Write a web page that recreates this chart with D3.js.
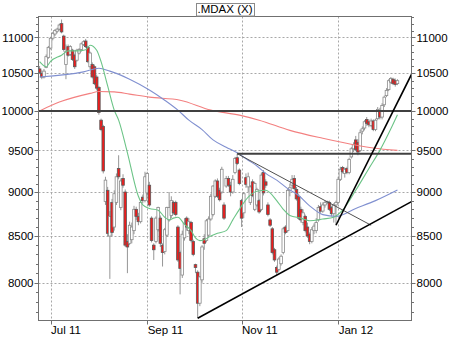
<!DOCTYPE html>
<html>
<head>
<meta charset="utf-8">
<script src="https://cdn.jsdelivr.net/npm/d3@7"></script>
<style>
  body { margin: 0; background: #fff; }
  svg { display: block; font-family: "Liberation Sans", Arial, sans-serif; }
</style>
</head>
<body>
<script>
// Daily candles, one per trading day, from 24 Jun 2011 to 8 Feb 2012
var opens = [10560,10500,10450,10580,10720,10850,10990,11050,11090,11120,11200,11020,10620,10870,10760,10820,10750,10680,10780,10830,
  10900,10950,10860,10590,10620,10590,10450,10310,9880,9800,8890,9020,8500,8880,8600,8880,9280,8820,9160,9000,
  8440,8420,8460,8560,8800,8720,8660,8940,8900,8990,9080,8700,8400,8440,8570,8700,8400,8330,8510,8680,
  8730,8880,8880,8600,8320,8080,8480,8700,8560,8650,8440,8190,8110,7790,8030,8470,8450,8510,8690,8740,
  8950,9130,9020,9000,8850,9070,9160,9080,9000,9230,9410,9260,8900,8760,9170,9060,8880,9120,8800,8850,
  8900,8800,9230,9120,8850,8680,8580,8350,8160,8140,8200,8320,8600,8560,9020,9080,9160,9030,8950,8800,
  8650,8720,8600,8520,8440,8560,8560,8680,8830,8780,8850,8880,8880,8820,8750,8850,8880,9150,9290,9220,
  9280,9230,9420,9520,9630,9600,9500,9740,9780,9890,9860,9810,9870,9760,9900,10000,9920,10080,10200,10280,
  10380,10420,10400,10360];
var highs = [10600,10540,10560,10760,10880,11010,11080,11120,11140,11200,11260,11040,10900,10900,10890,10840,10770,10840,10850,10930,
  10960,10980,10880,10800,10650,10620,10480,10330,9900,9820,9180,9060,8780,8920,9020,9220,9440,9160,9210,9030,
  8520,8660,8650,8840,8830,8760,8910,8970,9240,9240,9120,8720,8420,8720,8830,8730,8420,8590,8830,9000,
  8950,8900,8900,8620,8340,8560,8700,8720,8700,8670,8460,8200,8130,8070,8400,8520,8690,8720,8980,9080,
  9150,9160,9050,9300,8880,9190,9190,9120,9200,9420,9460,9280,8920,9000,9220,9230,9080,9150,9120,9050,
  8920,9230,9260,9150,8880,8700,8600,8370,8180,8270,8300,8600,8620,9040,9100,9200,9200,9060,8980,8830,
  8800,8740,8650,8540,8600,8640,8700,8850,8880,8880,8900,8900,8900,8840,8870,8900,9180,9300,9310,9290,
  9300,9410,9540,9600,9680,9640,9760,9800,9880,9920,9890,9900,9890,9900,10050,10040,10100,10200,10300,10420,
  10450,10440,10430,10420];
var lows = [10490,10420,10430,10570,10700,10830,10960,11020,11060,11100,11060,10800,10420,10730,10740,10670,10560,10660,10760,10800,
  10880,10850,10640,10560,10430,10340,10270,9950,9740,9220,8850,8500,8040,8500,8560,8850,9150,8790,9050,8380,
  8100,8400,8420,8520,8680,8620,8640,8870,8880,8960,8830,8430,8240,8420,8550,8380,8170,8300,8490,8660,
  8700,8740,8720,8220,7880,8050,8450,8560,8520,8430,8280,8100,7640,7760,8000,8350,8430,8490,8670,8720,
  8930,8930,8890,8980,8680,9050,9060,8950,8980,9210,9320,9080,8600,8700,9050,9000,8850,8940,8780,8830,
  8750,8780,8960,9050,8720,8600,8300,8220,8080,8120,8180,8300,8520,8540,8950,9040,9020,8900,8680,8650,
  8620,8540,8480,8410,8420,8520,8530,8660,8760,8760,8820,8860,8780,8720,8650,8630,8860,9130,9220,9170,
  9210,9210,9400,9480,9490,9440,9480,9700,9750,9810,9790,9790,9740,9740,9880,9890,9890,10050,10180,10260,
  10360,10340,10320,10340];
var closes = [10510,10450,10530,10730,10860,10990,11060,11100,11120,11180,11080,10830,10800,10750,10870,10690,10590,10820,10830,10910,
  10940,10870,10660,10780,10450,10360,10300,9980,9760,9250,9140,8530,8720,8540,8980,9180,9180,9130,9080,8400,
  8380,8620,8600,8800,8720,8660,8880,8900,9180,9220,8850,8450,8350,8700,8820,8420,8320,8570,8820,8820,
  8900,8760,8740,8240,8150,8520,8640,8600,8660,8450,8300,8160,7790,8060,8380,8420,8670,8690,8950,9070,
  9130,8950,8910,9270,8700,9160,9080,9000,9150,9400,9340,9100,8700,8980,9090,9180,9060,8960,9100,9030,
  8770,9200,8990,9080,8740,8620,8320,8240,8110,8250,8280,8580,8540,9020,9050,9150,9040,8920,8700,8680,
  8760,8560,8500,8440,8570,8610,8650,8820,8780,8850,8880,8890,8800,8750,8850,8880,9150,9270,9240,9270,
  9230,9390,9520,9570,9510,9480,9720,9770,9860,9840,9820,9870,9760,9880,10020,9920,10070,10180,10270,10400,
  10430,10360,10350,10400];

// Moving averages: [trading day, value]
var maFast = [[0,10660],[3,10590],[5,10665],[10,10750],[13,10810],[18,10810],[21,10825],[23,10890],[26,10820],[28,10660],
  [31,10330],[34,10010],[36,9880],[40,9470],[45,8950],[47,8850],[50,8810],[54,8790],[57,8710],[59,8680],[61,8700],[63,8710],
  [66,8630],[69,8560],[71,8480],[73,8450],[75,8460],[78,8500],[81,8530],[85,8560],[88,8680],[91,8800],[95,8940],[99,9010],
  [103,9020],[108,8900],[111,8800],[114,8730],[119,8700],[123,8670],[129,8690],[134,8710],[138,8790],[144,9020],[150,9280],
  [155,9500],[160,9770],[163,9950]];
var maMid = [[0,10450],[20,10520],[27,10570],[32,10530],[41,10420],[50,10275],[57,10140],[63,10010],[68,9880],[74,9760],
  [79,9630],[85,9540],[90,9470],[95,9380],[99,9310],[103,9220],[108,9140],[113,9040],[118,8960],[123,8840],[129,8740],
  [135,8720],[144,8810],[153,8900],[163,9024]];
var maSlow = [[0,10000],[9,10115],[23,10230],[27,10255],[34,10250],[41,10220],[50,10180],[64,10140],[78,10010],[91,9945],
  [100,9880],[114,9750],[129,9650],[145,9560],[152,9530],[163,9500]];

// Trend lines: [trading day, value] anchors
var supportLine = [[72,7640],[163,8800]];
var steepLine = [[135,8620],[163,10110]];
var fallingLine = [[90,9460],[151,8620]];
var levels = [{ value: 10000, from: null }, { value: 9460, from: 90 }];

var tickMonths = ["2011-07","2011-09","2011-11","2012-01"];
var yTicks = [8000,8500,9000,9500,10000,10500,11000];
var title = ".MDAX (X)";

// trading days (weekdays)
var days = d3.timeDay.range(new Date(2011,5,24), new Date(2012,1,9))
  .filter(function(d){ return d.getDay() % 6 !== 0; });

var W = 450, H = 338;
var pL = 38.5, pR = 411.5, pT = 16.5, pB = 320.5;

var svg = d3.select("body").append("svg")
  .attr("width", W).attr("height", H);

var x = d3.scaleLinear().domain([-0.5, 169.4]).range([pL, pR]);
var y = d3.scaleLog().domain([7617, 11304]).range([pB, pT]);
var lastDay = x.domain()[1];

svg.append("clipPath").attr("id","plot")
  .append("rect").attr("x",pL).attr("y",pT).attr("width",pR-pL).attr("height",pB-pT);

// grid
var tickIdx = tickMonths.map(function(m){
  return days.findIndex(function(d){ return d3.timeFormat("%Y-%m")(d) === m; });
});
var grid = svg.append("g").attr("stroke","#a8a8a8").attr("stroke-dasharray","2,2");
grid.selectAll(".gy").data(yTicks).enter().append("line")
  .attr("x1",pL).attr("x2",pR)
  .attr("y1",function(d){ return Math.round(y(d))+0.5; })
  .attr("y2",function(d){ return Math.round(y(d))+0.5; });
grid.selectAll(".gx").data(tickIdx).enter().append("line")
  .attr("y1",pT).attr("y2",pB)
  .attr("x1",function(d){ return Math.round(x(d))+0.5; })
  .attr("x2",function(d){ return Math.round(x(d))+0.5; });

var plot = svg.append("g").attr("clip-path","url(#plot)");

// candles
var candles = plot.append("g");
opens.forEach(function(o, i){
  var c = closes[i], up = c >= o, cx = x(i);
  candles.append("line")
    .attr("x1",cx).attr("x2",cx)
    .attr("y1",y(highs[i])).attr("y2",y(lows[i]))
    .attr("stroke","#8a8a8a").attr("stroke-width",0.9);
  candles.append("rect")
    .attr("x",cx-1.3).attr("width",2.6)
    .attr("y",y(Math.max(o,c)))
    .attr("height",Math.max(1, Math.abs(y(o)-y(c))))
    .attr("fill", up ? "#ffffff" : "#ee1c1c")
    .attr("stroke", up ? "#8a8a8a" : "#5a5a5a")
    .attr("stroke-width",0.8);
});

// moving averages
var ma = d3.line()
  .x(function(d){ return x(d[0]); })
  .y(function(d){ return y(d[1]); })
  .curve(d3.curveMonotoneX);
plot.append("path").attr("d",ma(maSlow)).attr("fill","none").attr("stroke","#f38080").attr("stroke-width",1.1);
plot.append("path").attr("d",ma(maMid)).attr("fill","none").attr("stroke","#8090d0").attr("stroke-width",1.1);
plot.append("path").attr("d",ma(maFast)).attr("fill","none").attr("stroke","#6cc487").attr("stroke-width",1.1);

// extend a line (straight on the log axis) to the right edge
function extend(p){
  var a = p[0], b = p[1];
  var k = (Math.log(b[1]) - Math.log(a[1])) / (b[0] - a[0]);
  return [a, [lastDay, Math.exp(Math.log(a[1]) + k * (lastDay - a[0]))]];
}
var straight = d3.line()
  .x(function(d){ return x(d[0]); })
  .y(function(d){ return y(d[1]); });

levels.forEach(function(l){
  var x0 = l.from === null ? x.domain()[0] : l.from;
  plot.append("line")
    .attr("x1",x(x0)).attr("x2",pR)
    .attr("y1",y(l.value)).attr("y2",y(l.value))
    .attr("stroke","#404040").attr("stroke-width",2);
});
plot.append("path").attr("d",straight(fallingLine)).attr("fill","none").attr("stroke","#505050").attr("stroke-width",1);
plot.append("path").attr("d",straight(extend(supportLine))).attr("fill","none").attr("stroke","#000").attr("stroke-width",1.6);
plot.append("path").attr("d",straight(extend(steepLine))).attr("fill","none").attr("stroke","#000").attr("stroke-width",1.6);

// frame
svg.append("rect").attr("x",pL).attr("y",pT).attr("width",pR-pL).attr("height",pB-pT)
  .attr("fill","none").attr("stroke","#707070").attr("stroke-width",1);

// y axes with minor ticks
var minor = d3.range(7700, 11400, 100);
[pL, pR].forEach(function(ax){
  var dir = ax === pL ? -1 : 1;
  svg.append("g").selectAll("line").data(minor).enter().append("line")
    .attr("x1",ax).attr("x2",function(d){ return ax + dir * (d % 500 === 0 ? 4 : 2.5); })
    .attr("y1",function(d){ return Math.round(y(d))+0.5; })
    .attr("y2",function(d){ return Math.round(y(d))+0.5; })
    .attr("stroke","#707070");
  svg.append("g").selectAll("text").data(yTicks).enter().append("text")
    .attr("x", ax + dir * 5)
    .attr("y",function(d){ return y(d); })
    .attr("dy","0.36em")
    .attr("text-anchor", dir < 0 ? "end" : "start")
    .attr("font-size","11.5px")
    .attr("fill","#000")
    .text(function(d){ return d; });
});

// x axis
svg.append("g").selectAll("line").data(tickIdx).enter().append("line")
  .attr("x1",function(d){ return Math.round(x(d))+0.5; })
  .attr("x2",function(d){ return Math.round(x(d))+0.5; })
  .attr("y1",pB).attr("y2",pB+4)
  .attr("stroke","#707070");
svg.append("g").selectAll("text").data(tickIdx).enter().append("text")
  .attr("x",function(d){ return x(d) + 0.5; })
  .attr("y",334)
  .attr("font-size","11.5px")
  .attr("fill","#000")
  .text(function(d){ return d3.timeFormat("%b %y")(days[d]); });

// title box
var tg = svg.append("g");
var tt = tg.append("text").attr("x",225).attr("y",13.3)
  .attr("text-anchor","middle").attr("font-size","11.5px").attr("fill","#000").text(title);
var bb = tt.node().getBBox();
tg.insert("rect","text")
  .attr("x",Math.round(bb.x-2)+0.5).attr("y",3.5)
  .attr("width",Math.round(bb.width+3)).attr("height",12.5)
  .attr("fill","#fff").attr("stroke","#8a8a8a");
</script>
</body>
</html>
